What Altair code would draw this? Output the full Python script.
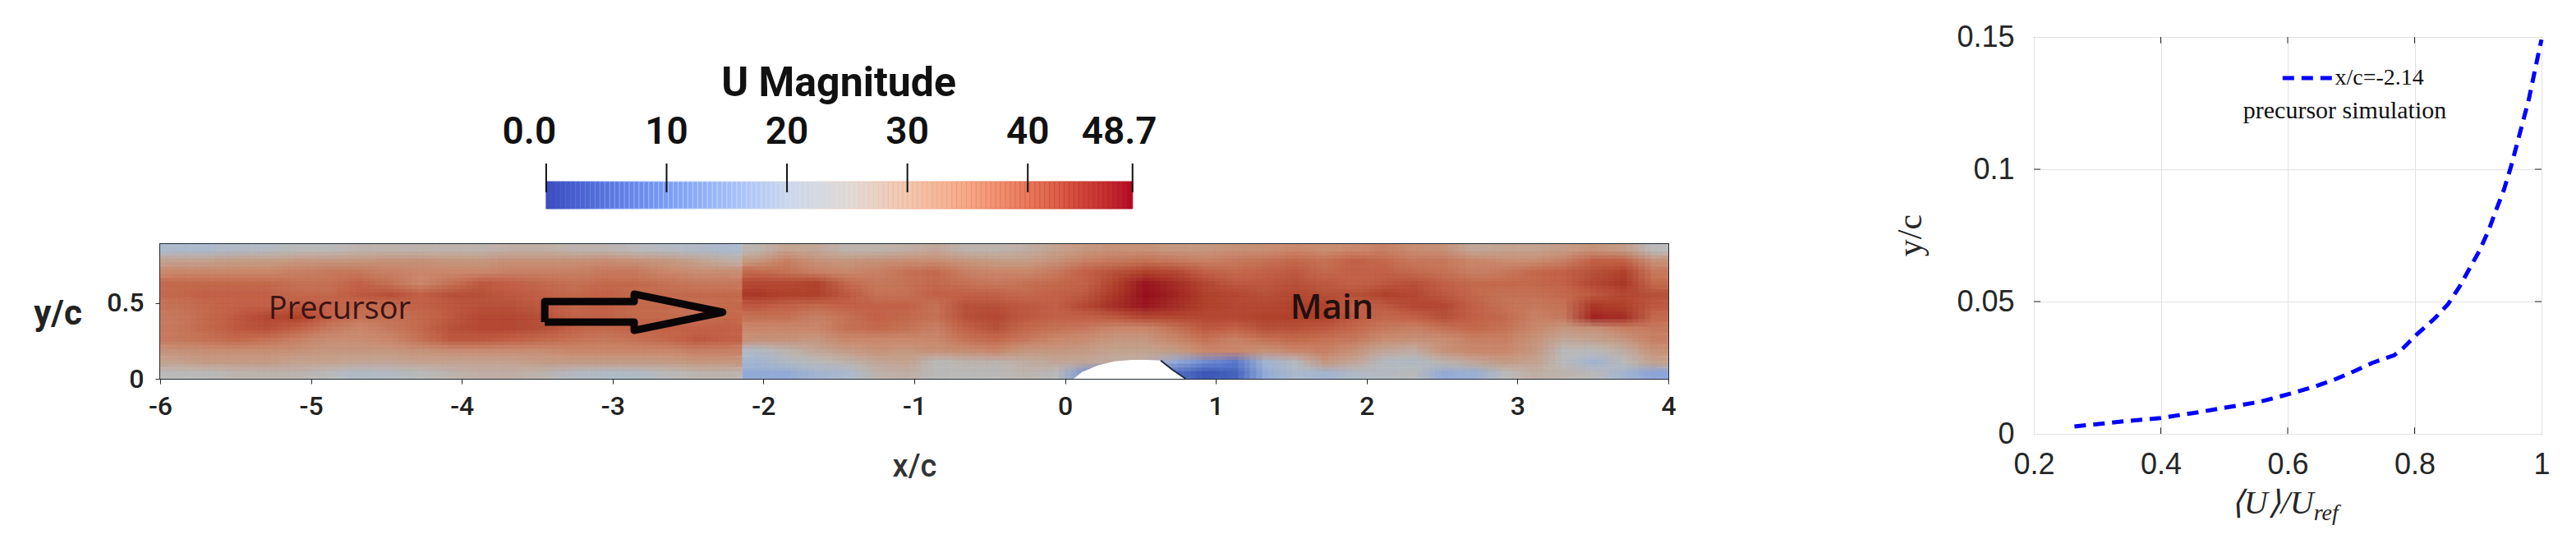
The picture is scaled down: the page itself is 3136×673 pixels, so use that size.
import numpy as np
import pandas as pd
import altair as alt

# --- colour bar
bar_ticks = [0, 10, 20, 30, 40, 48.7]
bar_labels = ["0.0", "10", "20", "30", "40", "48.7"]
bar_label_at = [-1.4, 10, 20, 30, 40, 47.6]
bar_stops = [0, 10, 17, 20, 25, 30, 35, 40, 45, 48.7]
bar_colors = ["#3b4cc0", "#7a9cf5", "#b0c8fa", "#c9d6ee", "#dcdcdc",
              "#f0c8b2", "#f5a988", "#e87a5c", "#cc4035", "#b40426"]

# --- field colours (the picture is duller than its colour bar)
field_stops = [6, 12, 17, 21, 24, 27, 30, 33, 38, 42, 46, 48.7]
field_colors = ["#3f5bb8", "#5f7fd0", "#8fa8dc", "#aebcd0", "#bcbcbc", "#c4ab9c",
                "#c99a82", "#cd8b70", "#c4654b", "#b2452f", "#9e1a24", "#8e0c1c"]

# velocity, rows from top to bottom
field_rows = [
    [21,21,22,23,24,24,25,25,25,25,25,26,26, 25,25,24,23,22,21, 25,28,27,25,25,26, 27,25,25,26,28,30,31,31,30,30,31,32,33, 32,33,34,32,31,27,28,28,29,31,29,24],
    [28,28,29,29,30,30,30,31,31,30,30,31,31, 31,32,31,30,28,26, 30,34,31,30,31,32, 32,30,29,29,31,34,35,36,35,34,35,36,37, 36,38,37,35,35,33,32,32,34,38,38,31],
    [33,33,33,33,34,35,35,34,33,33,33,34,34, 34,35,35,33,32,32, 37,36,34,33,34,36, 37,34,33,33,35,38,40,42,41,38,37,38,39, 37,38,38,37,36,34,35,37,38,40,42,35],
    [37,37,37,37,36,36,38,36,33,36,39,38,37, 36,37,37,36,35,35, 41,41,42,37,35,36, 37,36,35,36,37,38,42,46,44,41,39,39,40, 39,38,39,40,38,37,37,37,38,41,43,37],
    [37,38,38,38,37,37,39,40,38,40,40,39,38, 37,38,37,37,37,37, 43,42,42,39,36,36, 38,38,38,37,38,39,43,47,45,42,41,40,41, 40,40,42,41,39,37,36,36,37,39,41,40],
    [36,37,38,38,39,38,37,37,38,39,40,40,39, 37,38,37,37,36,37, 39,38,37,38,38,38, 36,40,40,39,38,41,44,46,44,42,41,41,42, 42,38,39,41,41,38,36,35,36,43,42,39],
    [35,37,39,41,42,38,36,36,37,39,41,41,40, 38,38,37,37,36,37, 36,36,34,36,38,37, 36,40,41,39,38,38,39,41,41,41,41,42,42, 42,39,37,38,40,38,37,34,35,45,44,37],
    [35,37,39,40,38,35,33,35,37,40,41,41,40, 38,37,38,38,38,38, 33,33,33,36,37,36, 34,38,40,37,36,35,33,33,36,39,38,40,40, 39,37,35,34,36,37,36,33,30,31,34,35],
    [35,36,37,36,34,32,32,33,36,39,39,38,37, 36,35,36,37,39,38, 31,31,30,33,33,33, 33,36,37,35,33,32,30,30,33,36,34,36,37, 36,35,32,31,32,34,34,31,27,28,30,34],
    [31,32,32,32,31,30,30,30,31,32,32,32,32, 33,33,33,33,34,34, 22,25,27,29,31,30, 31,32,33,30,30,29,28,28,29,33,33,31,33, 34,31,27,26,31,33,33,30,24,24,26,31],
    [28,29,29,29,28,28,27,27,28,28,28,28,29, 29,29,29,29,30,30, 20,22,24,25,27,28, 24,25,25,26,27,27,26,26,18,14,12,20,23, 30,27,23,22,25,27,29,28,24,20,24,28],
    [24,24,25,25,25,24,22,23,24,25,26,26,25, 23,22,22,24,25,25, 18,18,20,21,25,26, 24,24,24,25,24,15,10,10,10,6,8,18,21, 20,22,23,24,18,19,24,26,25,24,20,17],
]
y_top = 0.891

# bump on the lower wall
hump_x = [0.057, 0.11, 0.22, 0.33, 0.44, 0.547, 0.634, 0.71, 0.8]
hump_y = [0.0, 0.043, 0.089, 0.116, 0.125, 0.125, 0.121, 0.061, 0.0]

# arrow outline
arrow_x = [-3.45, -3.45, -2.857, -2.857, -2.27, -2.857, -2.857, -3.45]
arrow_y = [0.375, 0.511, 0.511, 0.56, 0.44, 0.32, 0.375, 0.375]

# --- profile
u_ratio = [0.264, 0.302, 0.344, 0.40, 0.457, 0.514, 0.556, 0.606, 0.644, 0.673, 0.705, 0.733, 0.768, 0.782,
           0.804, 0.832, 0.853, 0.871, 0.888, 0.902, 0.917, 0.927, 0.941, 0.952, 0.966, 0.98, 0.987, 0.994, 1.0]
y_c = [0.0028, 0.0037, 0.0048, 0.006, 0.0081, 0.0104, 0.0121, 0.0153, 0.018, 0.0204, 0.0237, 0.0268, 0.0297, 0.0324,
       0.0377, 0.0437, 0.0491, 0.0557, 0.0631, 0.0691, 0.0771, 0.0837, 0.0924, 0.1011, 0.1137, 0.1264, 0.1344, 0.1424, 0.149]
x_ticks = [0.2, 0.4, 0.6, 0.8, 1]
y_ticks = [0, 0.05, 0.1, 0.15]

MAIN_FONT = "Roboto"
SERIF = "Liberation Serif"
DARK = "#262626"

# colour bar panel, its x scale is placed so 0..48.7 sits over the middle of the field
steps = np.linspace(0, 48.7, 121)
bar_df = pd.DataFrame({"a": steps[:-1], "b": steps[1:]})
bar_df["U"] = (bar_df.a + bar_df.b) / 2
bar_x = alt.Scale(domain=[-32.06, 93.2], nice=False)
bar_y = alt.Scale(domain=[0, 209], nice=False)

bar_rect = alt.Chart(bar_df).mark_rect(strokeWidth=1).encode(
    x=alt.X("a:Q", scale=bar_x, axis=None),
    x2="b:Q",
    y=alt.Y("y0:Q", scale=bar_y, axis=None),
    y2="y1:Q",
    color=alt.Color("U:Q", legend=None, scale=alt.Scale(domain=bar_stops, range=bar_colors)),
    stroke=alt.Color("U:Q", legend=None, scale=alt.Scale(domain=bar_stops, range=bar_colors)),
).transform_calculate(y0="0", y1="33")

tick_df = pd.DataFrame({"v": bar_ticks, "lo": [20] * 6, "hi": [55] * 6})
bar_rule = alt.Chart(tick_df).mark_rule(color="#111111", strokeWidth=2).encode(
    x=alt.X("v:Q", scale=bar_x, axis=None),
    y=alt.Y("lo:Q", scale=bar_y, axis=None),
    y2="hi:Q",
)
label_df = pd.DataFrame({"v": bar_label_at, "t": bar_labels, "h": [93] * 6})
bar_text = alt.Chart(label_df).mark_text(font=MAIN_FONT, fontSize=46, fontWeight=600, color="#111111").encode(
    x=alt.X("v:Q", scale=bar_x, axis=None),
    y=alt.Y("h:Q", scale=bar_y, axis=None),
    text="t:N",
)
title_df = pd.DataFrame({"v": [24.3], "t": ["U Magnitude"], "h": [152]})
bar_title = alt.Chart(title_df).mark_text(font=MAIN_FONT, fontSize=50, fontWeight=700, color="#111111").encode(
    x=alt.X("v:Q", scale=bar_x, axis=None),
    y=alt.Y("h:Q", scale=bar_y, axis=None),
    text="t:N",
)
top_panel = alt.layer(bar_rect, bar_rule, bar_text, bar_title).properties(width=1836, height=209)

# field panel
seam = -2.14
n_left, n_right = 19, 31
x_edges = np.concatenate([np.linspace(-6, seam, n_left + 1), np.linspace(seam, 4, n_right + 1)[1:]])
y_edges = np.linspace(y_top, 0, len(field_rows) + 1)
records = []
for r, row in enumerate(field_rows):
    for c, val in enumerate(row):
        records.append({"xa": x_edges[c], "xb": x_edges[c + 1], "yb": y_edges[r], "ya": y_edges[r + 1], "U": val})
field_df = pd.DataFrame(records)

fx = alt.Scale(domain=[-6, 4], nice=False)
fy = alt.Scale(domain=[0, y_top], nice=False)
field_color = alt.Color("U:Q", legend=None, scale=alt.Scale(domain=field_stops, range=field_colors))

layers = []
k = 0
# same cells drawn a few times, shifted a bit and see through, to soften the blocks.
# cells are held to their own side of the seam between the two runs
for oy in [0, -0.33, 0.33]:
    for ox in [0, -0.4, 0.4, -0.2, 0.2]:
        k += 1
        layer = alt.Chart(field_df).transform_calculate(
            x0=f"datum.xa>={seam}-1e-9 ? max({seam}, datum.xa+{ox}*(datum.xb-datum.xa)) : datum.xa+{ox}*(datum.xb-datum.xa)",
            x1=f"datum.xb<={seam}+1e-9 ? min({seam}, datum.xb+{ox}*(datum.xb-datum.xa)) : datum.xb+{ox}*(datum.xb-datum.xa)",
            y0=f"datum.ya+{oy}*(datum.yb-datum.ya)",
            y1=f"datum.yb+{oy}*(datum.yb-datum.ya)",
        ).mark_rect(clip=True, opacity=1 / k, strokeWidth=1 if k == 1 else 0).encode(
            x=alt.X("x0:Q", scale=fx, title="x/c", axis=alt.Axis(
                values=list(range(-6, 5)), labelExpr="'' + datum.value", grid=False, domain=False, tickSize=6, tickColor=DARK,
                labelFont=MAIN_FONT, labelFontSize=32, labelFontWeight=500, labelColor="#222222", labelPadding=12,
                labelFlush=False, titleFont=MAIN_FONT, titleFontSize=38, titleFontWeight=500, titleColor="#333333",
                titleX=918, titleY=107, titleBaseline="middle")),
            x2="x1:Q",
            y=alt.Y("y0:Q", scale=fy, title="y/c", axis=alt.Axis(
                values=[0, 0.5], labelExpr="'' + datum.value", grid=False, domain=False, tickSize=6, tickColor=DARK,
                labelFont=MAIN_FONT, labelFontSize=32, labelFontWeight=500, labelColor="#222222", labelPadding=14,
                titleFont=MAIN_FONT, titleFontSize=42, titleFontWeight=700, titleColor="#222222",
                titleAngle=0, titleX=-125, titleY=84, titleAlign="center", titleBaseline="middle")),
            y2="y1:Q",
            color=field_color,
            stroke=field_color if k == 1 else alt.value("transparent"),
        )
        layers.append(layer)

hump_df = pd.DataFrame({"x": hump_x, "y": hump_y})
hump = alt.Chart(hump_df).mark_area(color="white", clip=True).encode(
    x=alt.X("x:Q", scale=fx), y=alt.Y("y:Q", scale=fy), y2=alt.datum(0))
hump_edge = alt.Chart(hump_df.iloc[6:]).mark_line(color="#20283c", strokeWidth=2).encode(
    x=alt.X("x:Q", scale=fx), y=alt.Y("y:Q", scale=fy))

arrow_df = pd.DataFrame({"x": arrow_x, "y": arrow_y, "i": range(len(arrow_x))})
arrow = alt.Chart(arrow_df).mark_line(color="#0a0506", strokeWidth=9, strokeJoin="round").encode(
    x=alt.X("x:Q", scale=fx), y=alt.Y("y:Q", scale=fy), order="i:Q")

name_df = pd.DataFrame({"x": [-4.81, 1.77], "y": [0.457, 0.467], "t": ["Precursor", "Main"]})
precursor = alt.Chart(name_df.iloc[:1]).mark_text(font="Open Sans", fontSize=38, color="#3b1414").encode(
    x=alt.X("x:Q", scale=fx), y=alt.Y("y:Q", scale=fy), text="t:N")
main_name = alt.Chart(name_df.iloc[1:]).mark_text(font="Open Sans", fontSize=42, fontWeight=600, color="#22100f").encode(
    x=alt.X("x:Q", scale=fx), y=alt.Y("y:Q", scale=fy), text="t:N")

field_panel = alt.layer(*layers, hump, hump_edge, arrow, precursor, main_name).properties(
    width=1836, height=164, view=alt.ViewBackground(stroke="#1d2733", strokeWidth=2))

left = alt.vconcat(top_panel, field_panel, spacing=43, bounds="flush").resolve_scale(color="independent")

# profile panel
px = alt.Scale(domain=[0.2, 1], nice=False)
py = alt.Scale(domain=[0, 0.15], nice=False)
profile_df = pd.DataFrame({"u": u_ratio, "y": y_c})
curve = alt.Chart(profile_df).mark_line(color="#0000ff", strokeWidth=5, strokeDash=[14, 9]).encode(
    x=alt.X("u:Q", scale=px, title=None, axis=alt.Axis(
        values=x_ticks, grid=True, gridColor="#e2e2e2", gridWidth=1, domain=False, ticks=False,
        labelExpr="'' + datum.value", labelFont="Liberation Sans", labelFontSize=36, labelColor=DARK,
        labelPadding=20, labelFlush=False)),
    y=alt.Y("y:Q", scale=py, title="y/c", axis=alt.Axis(
        values=y_ticks, grid=True, gridColor="#e2e2e2", gridWidth=1, domain=False, ticks=False,
        labelExpr="'' + datum.value", labelFont="Liberation Sans", labelFontSize=36, labelColor=DARK,
        labelPadding=24, labelFlush=False, titleFont=SERIF, titleFontSize=42, titleFontWeight="normal",
        titleColor=DARK, titleX=-129, titleY=241)),
)

# inward ticks on all four sides
tx = pd.DataFrame({"v": x_ticks[1:-1]})
ty = pd.DataFrame({"v": y_ticks[1:-1]})
tick_bottom = alt.Chart(tx).transform_calculate(a="0", b="0.0024").mark_rule(color=DARK).encode(
    x=alt.X("v:Q", scale=px), y=alt.Y("a:Q", scale=py), y2="b:Q")
tick_top = alt.Chart(tx).transform_calculate(a="0.15", b="0.1476").mark_rule(color=DARK).encode(
    x=alt.X("v:Q", scale=px), y=alt.Y("a:Q", scale=py), y2="b:Q")
tick_left = alt.Chart(ty).transform_calculate(a="0.2", b="0.2104").mark_rule(color=DARK).encode(
    y=alt.Y("v:Q", scale=py), x=alt.X("a:Q", scale=px), x2="b:Q")
tick_right = alt.Chart(ty).transform_calculate(a="1", b="0.9896").mark_rule(color=DARK).encode(
    y=alt.Y("v:Q", scale=py), x=alt.X("a:Q", scale=px), x2="b:Q")

key_df = pd.DataFrame({"u": [0.592, 0.670], "y": [0.1345, 0.1345]})
key = alt.Chart(key_df).mark_line(color="#0000ff", strokeWidth=5, strokeDash=[14, 9]).encode(
    x=alt.X("u:Q", scale=px), y=alt.Y("y:Q", scale=py))
key_df2 = pd.DataFrame({"u": [0.6745], "y": [0.1345], "t": ["x/c=-2.14"]})
key_text = alt.Chart(key_df2).mark_text(font=SERIF, fontSize=28, align="left", color="#111111").encode(
    x=alt.X("u:Q", scale=px), y=alt.Y("y:Q", scale=py), text="t:N")
note_df = pd.DataFrame({"u": [0.69], "y": [0.122], "t": ["precursor simulation"]})
note_text = alt.Chart(note_df).mark_text(font=SERIF, fontSize=30, color="#111111").encode(
    x=alt.X("u:Q", scale=px), y=alt.Y("y:Q", scale=py), text="t:N")

xtitle_df = pd.DataFrame({"u": [0.641], "t": ["\u27e8U\u27e9/U"], "s": ["ref"]})
xtitle = alt.Chart(xtitle_df).mark_text(font=SERIF, fontSize=40, fontStyle="italic", align="right", color=DARK).encode(
    x=alt.X("u:Q", scale=px), y=alt.value(568), text="t:N")
xsub = alt.Chart(xtitle_df).mark_text(font=SERIF, fontSize=28, fontStyle="italic", align="left", color=DARK).encode(
    x=alt.X("u:Q", scale=px), y=alt.value(580), text="s:N")

right = alt.layer(curve, tick_bottom, tick_top, tick_left, tick_right, key, key_text, note_text, xtitle, xsub).properties(
    width=618, height=483, view=alt.ViewBackground(stroke=DARK, strokeWidth=1))

chart = alt.hconcat(left, right, spacing=261).properties(
    padding={"left": 31, "top": 18, "right": 5, "bottom": 5}, background="white"
).configure_view(stroke=None)

chart.save("out.html", embed_options={"renderer": "svg", "actions": False})
